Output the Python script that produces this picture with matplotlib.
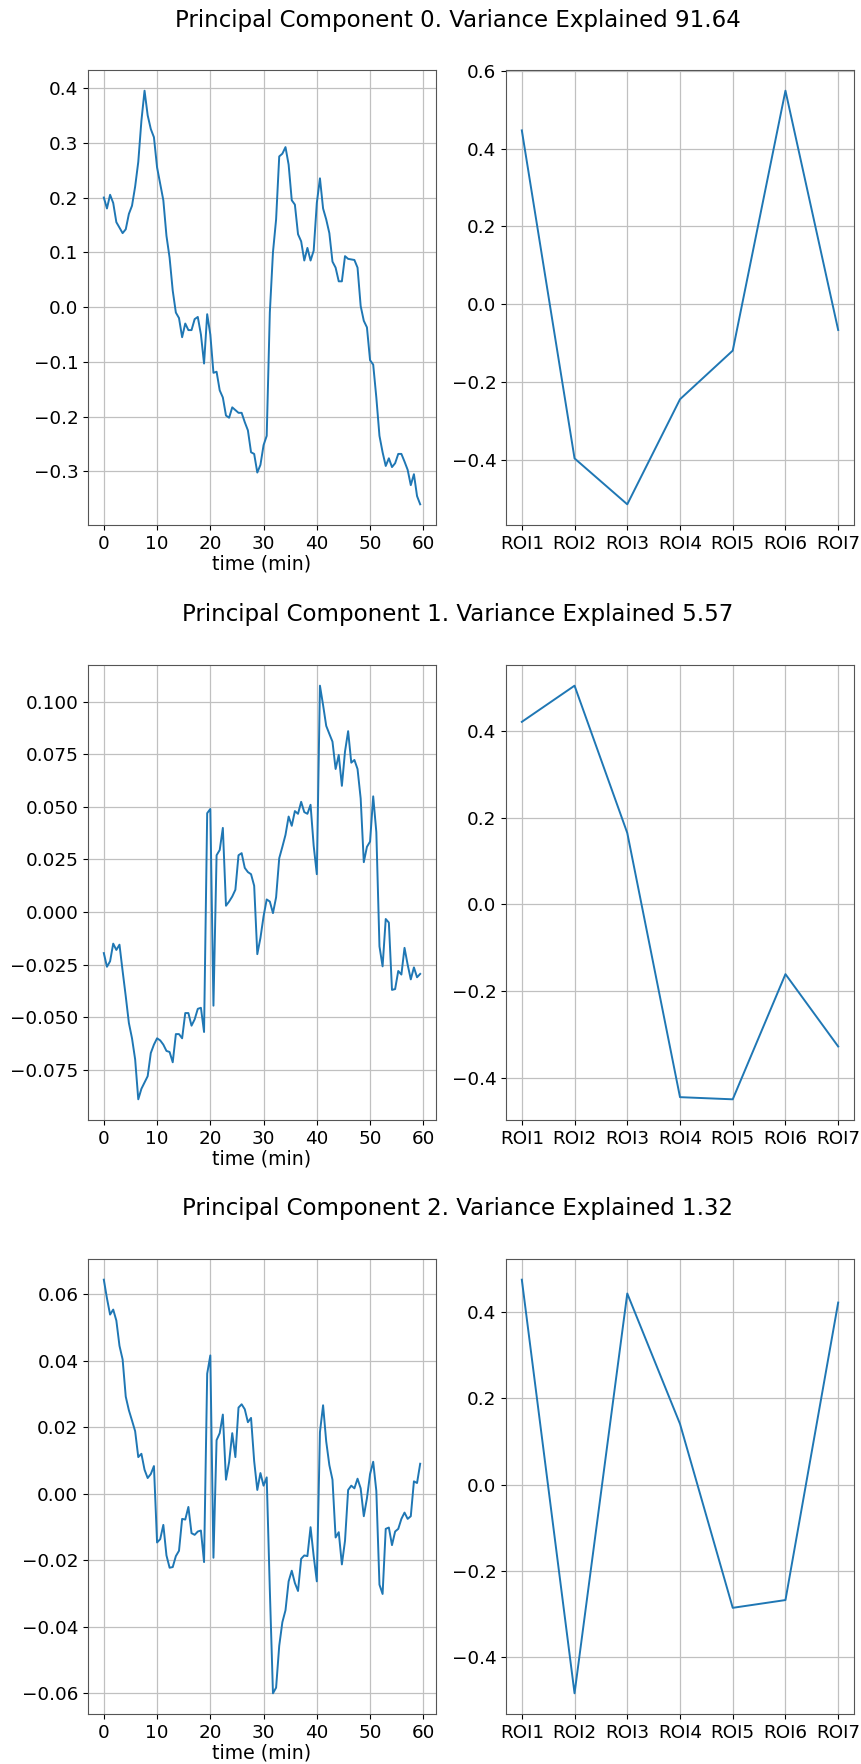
#imports
import numpy as np
import matplotlib
matplotlib.use("Agg")
import matplotlib.pyplot as plt

#data
variance_explained = [91.64, 5.57, 1.32]
roi_labels = ["ROI1", "ROI2", "ROI3", "ROI4", "ROI5", "ROI6", "ROI7"]
time_ticks = [0, 10, 20, 30, 40, 50, 60]

pc0_time = [0.20, 0.18, 0.205, 0.19, 0.155, 0.145, 0.135, 0.142, 0.17, 0.185,
            0.22, 0.265, 0.34, 0.395, 0.35, 0.325, 0.31, 0.255, 0.225, 0.195,
            0.13, 0.09, 0.03, -0.01, -0.02, -0.055, -0.03, -0.042, -0.042, -0.022,
            -0.018, -0.05, -0.103, -0.013, -0.05, -0.12, -0.118, -0.152, -0.165, -0.198,
            -0.202, -0.183, -0.188, -0.193, -0.193, -0.21, -0.225, -0.265, -0.268, -0.302,
            -0.288, -0.252, -0.235, -0.01, 0.10, 0.16, 0.275, 0.28, 0.292, 0.26,
            0.195, 0.187, 0.133, 0.12, 0.085, 0.108, 0.085, 0.103, 0.19, 0.235,
            0.18, 0.16, 0.135, 0.083, 0.072, 0.047, 0.047, 0.093, 0.088, 0.087,
            0.086, 0.072, 0.002, -0.025, -0.037, -0.097, -0.105, -0.165, -0.235, -0.265,
            -0.29, -0.276, -0.292, -0.285, -0.268, -0.268, -0.282, -0.297, -0.325, -0.305,
            -0.345, -0.36]

pc1_time = [-0.0195, -0.026, -0.0234, -0.015, -0.018, -0.0155, -0.028, -0.040, -0.0527, -0.060,
            -0.070, -0.089, -0.084, -0.081, -0.078, -0.067, -0.063, -0.060, -0.061, -0.063,
            -0.066, -0.0665, -0.0714, -0.058, -0.058, -0.060, -0.048, -0.048, -0.054, -0.051,
            -0.046, -0.0455, -0.057, 0.047, 0.049, -0.0445, 0.027, 0.0295, 0.040, 0.003,
            0.005, 0.0074, 0.0106, 0.027, 0.028, 0.021, 0.019, 0.018, 0.0125, -0.020,
            -0.0123, -0.002, 0.006, 0.005, -0.0005, 0.007, 0.0256, 0.031, 0.0367, 0.0454,
            0.041, 0.048, 0.0467, 0.0524, 0.0475, 0.0467, 0.051, 0.0315, 0.018, 0.1076,
            0.0984, 0.0885, 0.0847, 0.081, 0.068, 0.0747, 0.060, 0.0763, 0.086, 0.071,
            0.0723, 0.068, 0.054, 0.0237, 0.031, 0.0335, 0.055, 0.038, -0.0163, -0.0258,
            -0.0033, -0.005, -0.037, -0.0366, -0.028, -0.0297, -0.017, -0.025, -0.032, -0.0263,
            -0.031, -0.0294]

pc2_time = [0.0644, 0.0588, 0.0539, 0.0554, 0.0521, 0.0445, 0.0404, 0.0292, 0.0251, 0.022,
            0.0188, 0.011, 0.012, 0.0072, 0.0047, 0.0059, 0.0083, -0.0147, -0.0137, -0.0094,
            -0.0186, -0.0223, -0.0221, -0.0188, -0.0172, -0.0076, -0.0078, -0.004, -0.0119, -0.0124,
            -0.0114, -0.0111, -0.0206, 0.0361, 0.0416, -0.0193, 0.0161, 0.0182, 0.0238, 0.0042,
            0.0095, 0.0182, 0.011, 0.0259, 0.0269, 0.0254, 0.0215, 0.0228, 0.0098, 0.0011,
            0.0062, 0.0024, 0.0049, -0.029, -0.0601, -0.0584, -0.0458, -0.0387, -0.0351, -0.0264,
            -0.0232, -0.0269, -0.0293, -0.0196, -0.0186, -0.0188, -0.0101, -0.0188, -0.0264, 0.0185,
            0.0266, 0.0157, 0.0086, 0.0042, -0.0132, -0.0116, -0.0213, -0.0142, 0.0011, 0.0024,
            0.0016, 0.0045, 0.0016, -0.0068, -0.0014, 0.0059, 0.0096, 0.0008, -0.0274, -0.0302,
            -0.0106, -0.0102, -0.0155, -0.0114, -0.0106, -0.0076, -0.0057, -0.0076, -0.0068, 0.0037,
            0.0032, 0.009]

pc0_roi = [0.447, -0.396, -0.514, -0.244, -0.119, 0.549, -0.066]
pc1_roi = [0.4215, 0.505, 0.165, -0.445, -0.45, -0.161, -0.328]
pc2_roi = [0.475, -0.483, 0.443, 0.141, -0.285, -0.267, 0.422]

#sampling grid (minutes), 102 frames ending just before 60 min
last_minute = 59.4

#figure layout in pixels
W, H = 862, 1764
row_tops = [70, 665, 1259]
row_titles_y = [21, 615, 1209]
axes_h = 455


def px_rect(x0, y0, w, h):
    '''Convert a pixel rectangle (top-left origin) to figure fractions'''
    return [x0 / W, 1 - (y0 + h) / H, w / W, h / H]


def style_axes(ax):
    '''Grid, tick sizes and frame colour to match the reference'''
    ax.grid(True, color="#c0c0c0", linewidth=0.9)
    ax.tick_params(labelsize=13.2)
    for s in ax.spines.values():
        s.set_color("#555555")


def main():
    fig = plt.figure(figsize=(W / 100, H / 100), dpi=100)
    time_series = [pc0_time, pc1_time, pc2_time]
    roi_series = [pc0_roi, pc1_roi, pc2_roi]

    for i in range(3):
        ts = np.array(time_series[i])
        t = np.linspace(0, last_minute, len(ts))

        ax_t = fig.add_axes(px_rect(88, row_tops[i], 348, axes_h))
        ax_t.plot(t, ts, color="#1f77b4", linewidth=1.4)
        ax_t.set_xticks(time_ticks)
        ax_t.set_xlabel("time (min)", fontsize=13.6, labelpad=1)
        style_axes(ax_t)

        ax_r = fig.add_axes(px_rect(506, row_tops[i], 348, axes_h))
        ax_r.plot(roi_labels, roi_series[i], color="#1f77b4", linewidth=1.4)
        style_axes(ax_r)

        fig.text(458 / W, 1 - row_titles_y[i] / H,
                 f"Principal Component {i}. Variance Explained {variance_explained[i]:.2f}",
                 ha="center", va="center", fontsize=16.5)

    fig.savefig("out.png", dpi=100)
    plt.close(fig)


if __name__ == "__main__":
    main()
